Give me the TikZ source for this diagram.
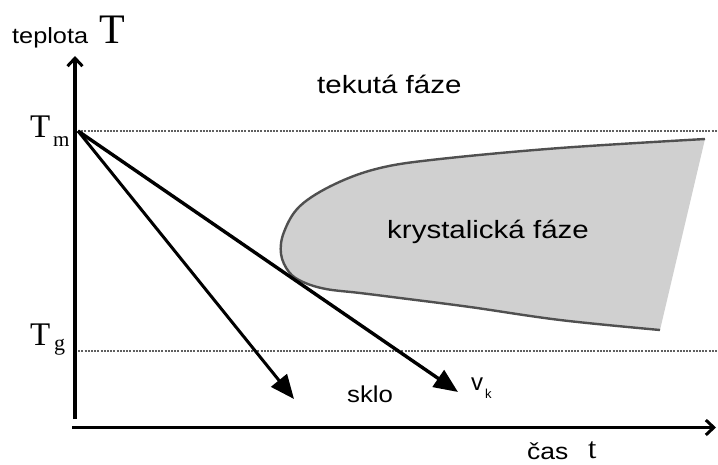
\documentclass[tikz,border=0pt]{standalone}
\usepackage{fontspec}
\setmainfont{Liberation Sans}
\newfontfamily\serifT{Liberation Serif}
\usetikzlibrary{arrows.meta}
\definecolor{cryst}{HTML}{D0D0D0}
\definecolor{edge}{HTML}{505050}
\definecolor{dotc}{HTML}{606060}
\newcommand{\sz}[1]{\fontsize{#1}{#1}\selectfont}
\newcommand{\wide}[2][1.17]{\scalebox{#1}[1]{#2}}
\tikzset{
  axis/.style={line width=3.6pt, -{Straight Barb[length=8pt,width=15pt,line width=3pt]}},
  cool/.style={line width=3.4pt, -{Triangle[length=24pt,width=20pt]}},
  level/.style={dotc, line width=2pt, dash pattern=on 2pt off 1.2pt},
  lbl/.style={inner sep=0pt, anchor=base west},
  bound/.style={edge, line width=2.4pt}
}
\begin{document}
\begin{tikzpicture}[x=1pt,y=-1pt]
\path[use as bounding box, fill=white] (0,0) rectangle (718,464);

% coordinates
\coordinate (O) at (75,419);
\coordinate (Ytop) at (75,56);
\coordinate (Xl) at (72,427.5);
\coordinate (Xr) at (716,427.5);
\coordinate (Tm) at (78,131);
\coordinate (TmEnd) at (718,131);
\coordinate (TgS) at (75,350.5);
\coordinate (TgEnd) at (718,350.5);
\coordinate (A1) at (294,399);
\coordinate (A2) at (458,392);

% crystal region
\def\crystpts{(705,139) (560,148) (440,159) (380,168) (335,184) (300,206) (284,232) (281,254) (289,272) (303,282) (326,289) (360,293) (400,298) (470,307) (560,320) (660,330)}
\fill[cryst] plot[smooth, tension=0.6] coordinates {\crystpts} -- cycle;
\draw[bound] plot[smooth, tension=0.6] coordinates {\crystpts};

% level lines
\draw[level] (Tm) -- (TmEnd);
\draw[level] (TgS) -- (TgEnd);

% axes
\draw[axis] (O) -- (Ytop);
\draw[axis] (Xl) -- (Xr);

% cooling arrows
\draw[cool, line width=3pt] (Tm) -- (A1);
\draw[cool] (Tm) -- (A2);

% labels
\node[lbl] (teplota) at (12,43) {\sz{22}\wide[1.15]{teplota}};
\node[lbl] (Tbig) at (99,43) {\sz{42}\serifT T};
\node[lbl] (tek) at (317,93) {\sz{25}\wide[1.18]{tekutá fáze}};
\node[lbl] (kry) at (387,238) {\sz{25}\wide[1.18]{krystalická fáze}};
\node[lbl] (sklo) at (347,402) {\sz{23}\wide[1.12]{sklo}};
\node[lbl] (v) at (471,390) {\sz{24}v};
\node[lbl] (vk) at (485,398) {\sz{13}k};
\node[lbl] (cas) at (527,459) {\sz{23}\wide[1.15]{čas}};
\node[lbl] (tt) at (588,458) {\sz{30}\serifT t};
\node[lbl] (TmT) at (30,137) {\sz{33}\serifT T};
\node[lbl] (TmS) at (53,146) {\sz{21}\serifT m};
\node[lbl] (TgT) at (30,345) {\sz{33}\serifT T};
\node[lbl] (TgS2) at (54,350) {\sz{22}\serifT g};
\end{tikzpicture}
\end{document}
